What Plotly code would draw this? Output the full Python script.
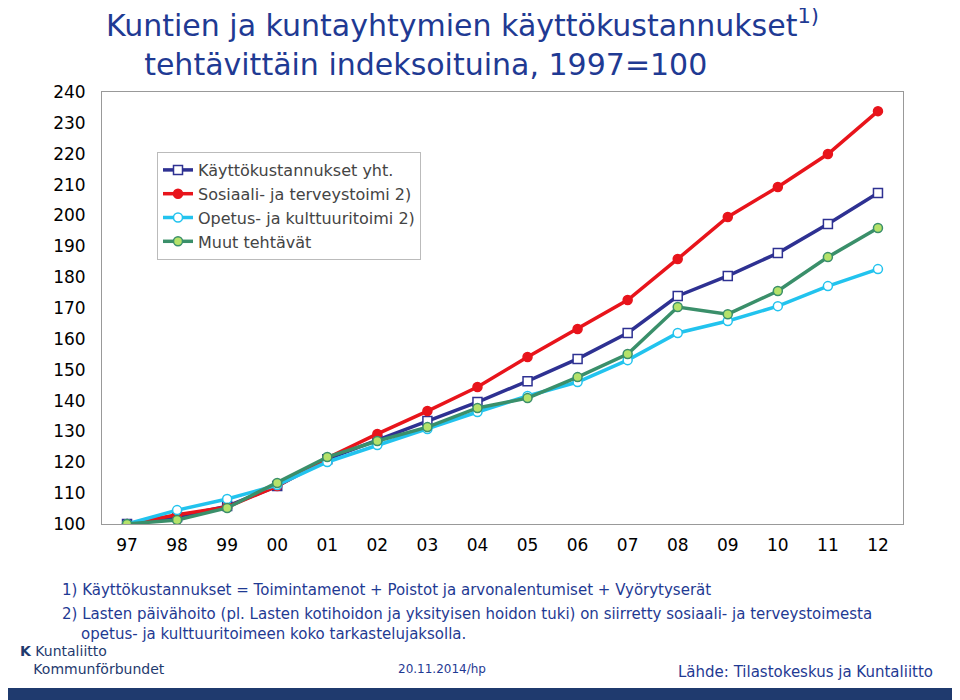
import plotly.graph_objects as go

years = ['97', '98', '99', '00', '01', '02', '03', '04', '05', '06', '07', '08', '09', '10', '11', '12']
total = [100, 102.3, 105.8, 112.3, 121.0, 127.2, 133.4, 139.5, 146.3, 153.5, 161.9, 173.9, 180.4, 187.8, 197.2, 207.3]
social = [100, 103.0, 105.5, 112.3, 121.4, 129.2, 136.6, 144.4, 154.1, 163.2, 172.6, 185.9, 199.5, 209.2, 219.9, 233.8]
edu = [100, 104.5, 108.1, 112.6, 120.1, 125.6, 130.8, 136.3, 141.5, 146.0, 153.1, 161.9, 165.8, 170.6, 177.1, 182.6]
other = [100, 101.3, 105.2, 113.3, 121.7, 126.9, 131.4, 137.6, 140.8, 147.6, 155.1, 170.3, 168.0, 175.5, 186.5, 195.9]

series = [
    ('Käyttökustannukset yht.', total, '#2E3192', 'square', 'white'),
    ('Sosiaali- ja terveystoimi 2)', social, '#E8141B', 'circle', '#E8141B'),
    ('Opetus- ja kulttuuritoimi 2)', edu, '#22C3EE', 'circle', 'white'),
    ('Muut tehtävät', other, '#3A8F6A', 'circle', '#B5E26A'),
]

# page is drawn with an 8px body offset, so layout uses screen coords minus 8
OFF = 8
L, T, PW, PH = 102 - OFF, 92 - OFF, 801, 432


def px(x):
    return (x - OFF - L) / PW


def py(y):
    return 1 - (y - OFF - T) / PH


fig = go.Figure()
for name, vals, col, sym, fill in series:
    fig.add_trace(go.Scatter(
        x=years, y=vals, name=name, mode='lines+markers',
        line=dict(color=col, width=3.5),
        marker=dict(symbol=sym, size=9, color=fill, line=dict(color=col, width=1.5))))

fig.update_layout(
    width=960, height=700, paper_bgcolor='white', plot_bgcolor='white',
    margin=dict(l=L, r=960 - L - PW, t=T, b=700 - T - PH, autoexpand=False),
    font=dict(family='DejaVu Sans', size=17, color='black'),
    legend=dict(x=px(157), y=py(152), xanchor='left', yanchor='top',
                bgcolor='white', bordercolor='#BBBBBB', borderwidth=1,
                font=dict(size=16, color='#444444'), tracegroupgap=0),
    xaxis=dict(range=[-0.5, 15.5], showline=True, linecolor='#999999', mirror=True,
               showgrid=False, ticks='', tickfont=dict(size=17), ticklabelstandoff=6),
    yaxis=dict(range=[100, 240], dtick=10, showline=True, linecolor='#999999', mirror=True,
               showgrid=False, ticks='', tickfont=dict(size=17), ticklabelstandoff=12),
)

fig.add_annotation(x=px(104), y=py(2), xref='paper', yref='paper', xanchor='left', yanchor='top',
                   showarrow=False, align='left',
                   text='Kuntien ja kuntayhtymien käyttökustannukset<sup>1)</sup><br>    tehtävittäin indeksoituina, 1997=100',
                   font=dict(size=30, color='#1F3A93'))

notes = [
    (590, '1) Käyttökustannukset = Toimintamenot + Poistot ja arvonalentumiset + Vyörytyserät'),
    (614, '2) Lasten päivähoito (pl. Lasten kotihoidon ja yksityisen hoidon tuki) on siirretty sosiaali- ja terveystoimesta'),
    (634, '    opetus- ja kulttuuritoimeen koko tarkastelujaksolla.'),
]
for y, t in notes:
    fig.add_annotation(x=px(60), y=py(y), xref='paper', yref='paper', xanchor='left', yanchor='middle',
                       showarrow=False, text=t, font=dict(size=15, color='#1F3A93'))

fig.add_shape(type='rect', xref='paper', yref='paper', x0=px(0), x1=px(960),
              y0=py(700), y1=py(688), fillcolor='#1F3A6E', line=dict(width=0))
fig.add_annotation(x=px(396), y=py(669), xref='paper', yref='paper',
                   xanchor='left', yanchor='middle', showarrow=False, text='20.11.2014/hp',
                   font=dict(size=12, color='#1F3A93'))
fig.add_annotation(x=px(935), y=py(672), xref='paper', yref='paper',
                   xanchor='right', yanchor='middle', showarrow=False, text='Lähde: Tilastokeskus ja Kuntaliitto',
                   font=dict(size=15, color='#1F3A93'))
fig.add_annotation(x=px(18), y=py(660), xref='paper', yref='paper',
                   xanchor='left', yanchor='middle', showarrow=False, align='left',
                   text='<b>K</b> Kuntaliitto<br>   Kommunförbundet',
                   font=dict(size=14, color='#1F3A6E'))

fig.write_html('out.html')
